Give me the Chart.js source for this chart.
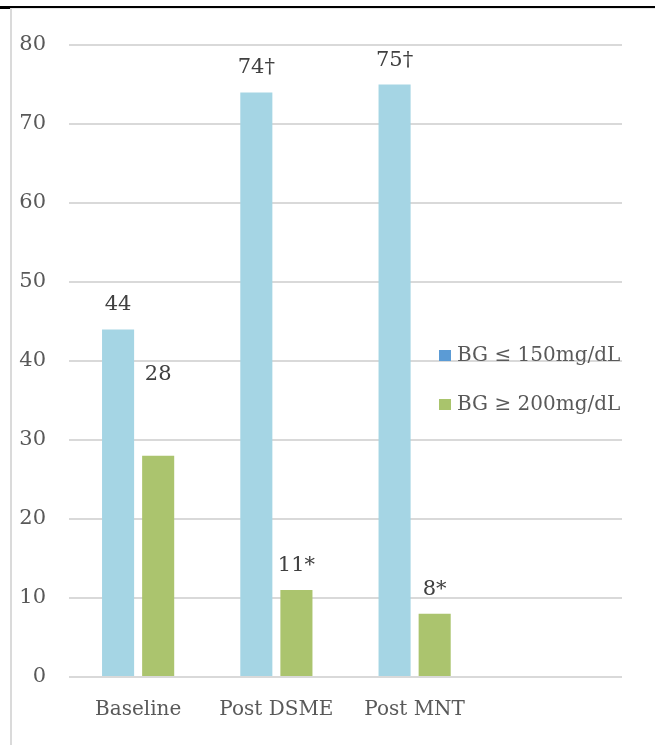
<!DOCTYPE html>
<html>
<head>
<meta charset="utf-8">
<script src="https://cdn.jsdelivr.net/npm/chart.js@4/dist/chart.umd.min.js"></script>
<style>
  html, body { margin: 0; padding: 0; background: #fff; }
  body { width: 655px; height: 745px; position: relative; overflow: hidden; }
  .rule { position: absolute; left: 0; top: 6px; width: 655px; height: 1.5px; background: #000; }
  .stub { position: absolute; left: 0; top: 6px; width: 10px; height: 2.5px; background: #000; }
  .frame { position: absolute; left: 10px; top: 8px; width: 660px; height: 760px;
           border-left: 2px solid #dadada; border-top: 1.5px solid #e6e6e6; }
  #chart { position: absolute; left: 0; top: 0; }
</style>
</head>
<body>
<div class="rule"></div>
<div class="stub"></div>
<div class="frame"></div>
<canvas id="chart" width="655" height="745"></canvas>
<script>
const categories = ['Baseline', 'Post DSME', 'Post MNT', ''];
const seriesNames = ['BG \u2264 150mg/dL', 'BG \u2265 200mg/dL'];
const lowBG = [44, 74, 75, null];
const highBG = [28, 11, 8, null];
const lowNotes = ['', '\u2020', '\u2020', ''];
const highNotes = ['', '*', '*', ''];
const yTicks = [0, 10, 20, 30, 40, 50, 60, 70, 80];

const serif = 'DejaVu Serif';

// value labels over each bar, with the significance marks;
// the baseline high-BG label was dragged up clear of its bar
const barLabels = {
  id: 'barLabels',
  afterDatasetsDraw(chart) {
    const ctx = chart.ctx;
    const notes = [lowNotes, highNotes];
    ctx.save();
    ctx.font = '21px "' + serif + '"';
    ctx.fillStyle = '#404040';
    ctx.textAlign = 'center';
    ctx.textBaseline = 'alphabetic';
    chart.data.datasets.forEach((ds, di) => {
      chart.getDatasetMeta(di).data.forEach((bar, i) => {
        if (ds.data[i] == null) return;
        const lift = (di === 1 && i === 0) ? 76 : 19;
        ctx.fillText(ds.data[i] + notes[di][i], bar.x, bar.y - lift);
      });
    });
    ctx.restore();
  }
};

// legend sits inside the plot, to the right of the last group
const sideLegend = {
  id: 'sideLegend',
  afterDraw(chart) {
    const ctx = chart.ctx;
    const swatches = ['#5b9bd5', '#a9c46c'];
    ctx.save();
    ctx.font = '20px "' + serif + '"';
    ctx.textAlign = 'left';
    ctx.textBaseline = 'middle';
    seriesNames.forEach((name, i) => {
      const y = 355 + i * 49;
      ctx.fillStyle = swatches[i];
      ctx.fillRect(439, y - 5, 12, 11);
      ctx.fillStyle = '#595959';
      ctx.fillText(name, 457, y + 1);
    });
    ctx.restore();
  }
};

new Chart(document.getElementById('chart'), {
  type: 'bar',
  data: {
    labels: categories,
    datasets: [
      { label: seriesNames[0], data: lowBG, backgroundColor: '#a5d5e4',
        categoryPercentage: 0.58, barPercentage: 0.8 },
      { label: seriesNames[1], data: highBG, backgroundColor: '#abc46e',
        categoryPercentage: 0.58, barPercentage: 0.8 }
    ]
  },
  options: {
    responsive: false,
    animation: false,
    layout: { padding: { top: 45, right: 33, left: 0, bottom: 0 } },
    plugins: { legend: { display: false }, tooltip: { enabled: false } },
    scales: {
      x: {
        grid: { display: false, drawTicks: false },
        border: { display: false },
        ticks: { color: '#595959', font: { family: serif, size: 20 }, padding: 21, maxRotation: 0 },
        afterFit(scale) { scale.height = 68; }
      },
      y: {
        min: 0,
        max: 80,
        afterBuildTicks(scale) { scale.ticks = yTicks.map(v => ({ value: v })); },
        grid: { color: '#d9d9d9', lineWidth: 2, drawTicks: false },
        border: { display: false },
        ticks: { color: '#595959', font: { family: serif, size: 21 }, padding: 23 },
        afterFit(scale) { scale.width = 69; }
      }
    }
  },
  plugins: [barLabels, sideLegend]
});
</script>
</body>
</html>
